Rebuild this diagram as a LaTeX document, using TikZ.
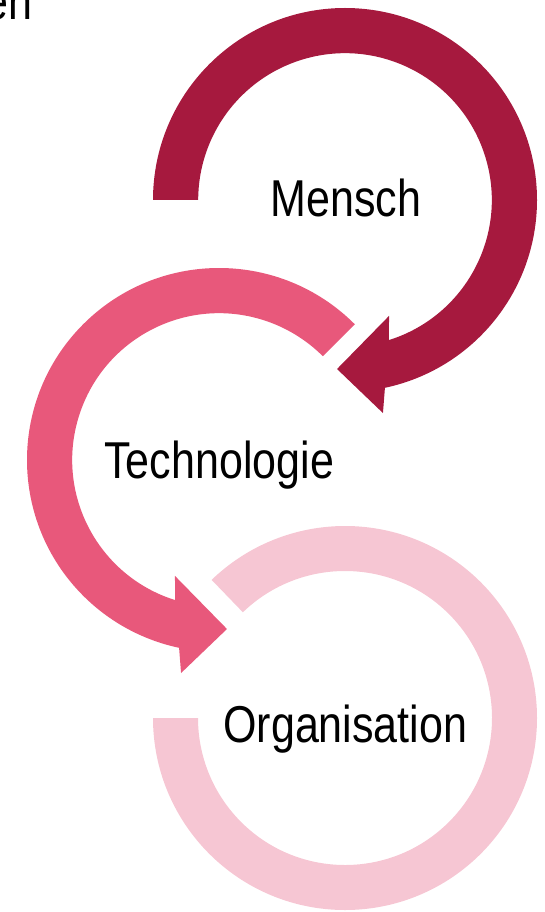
\documentclass[tikz,border=0pt]{standalone}
\usepackage{fontspec}
\newfontfamily\labelfont[FakeStretch=0.83]{Liberation Sans}
\definecolor{ringdark}{HTML}{A6193E}
\definecolor{ringmid}{HTML}{E8587B}
\definecolor{ringlight}{HTML}{F6C6D3}
\begin{document}
\begin{tikzpicture}[x=0.02cm,y=-0.02cm,
  lbl/.style={inner sep=0pt, anchor=base west, text=black,
    font=\labelfont\fontsize{29.5}{35}\selectfont}]
\useasboundingbox (0,0) rectangle (544,912);
\clip (0,0) rectangle (544,912);

% centres of the three rings
\coordinate (cM) at (345,200);
\coordinate (cT) at (219,460);
\coordinate (cO) at (345,718);

% Mensch: clockwise ring ending in an arrowhead
\begin{scope}[shift={(cM)}]
  \fill[ringdark] (180:192) arc[start angle=180, end angle=438, radius=192]
    -- (439.9:216.4) -- (452.7:169.2) -- (429.2:124)
    -- (432.6:146.8) arc[start angle=432.6, end angle=180, radius=146.8] -- cycle;
\end{scope}

% Technologie: counter-clockwise ring ending in an arrowhead
\begin{scope}[shift={(cT)}]
  \fill[ringmid] (-45:192) arc[start angle=-45, end angle=-258, radius=192]
    -- (-259.9:216.4) -- (-272.7:169.2) -- (-249.2:124)
    -- (-252.6:146.8) arc[start angle=-252.6, end angle=-45, radius=146.8] -- cycle;
\end{scope}

% Organisation: open ring without arrowhead
\begin{scope}[shift={(cO)}]
  \fill[ringlight] (180:192) arc[start angle=180, end angle=-134, radius=192]
    -- (-134:147) arc[start angle=-134, end angle=180, radius=147] -- cycle;
\end{scope}

% labels
\node[lbl, anchor=base east] (prev) at (33,20) {en};
\node[lbl] (mensch) at (270,216) {Mensch};
\node[lbl] (technik) at (104,478) {Technologie};
\node[lbl] (org) at (223,742) {Organisation};
\end{tikzpicture}
\end{document}
